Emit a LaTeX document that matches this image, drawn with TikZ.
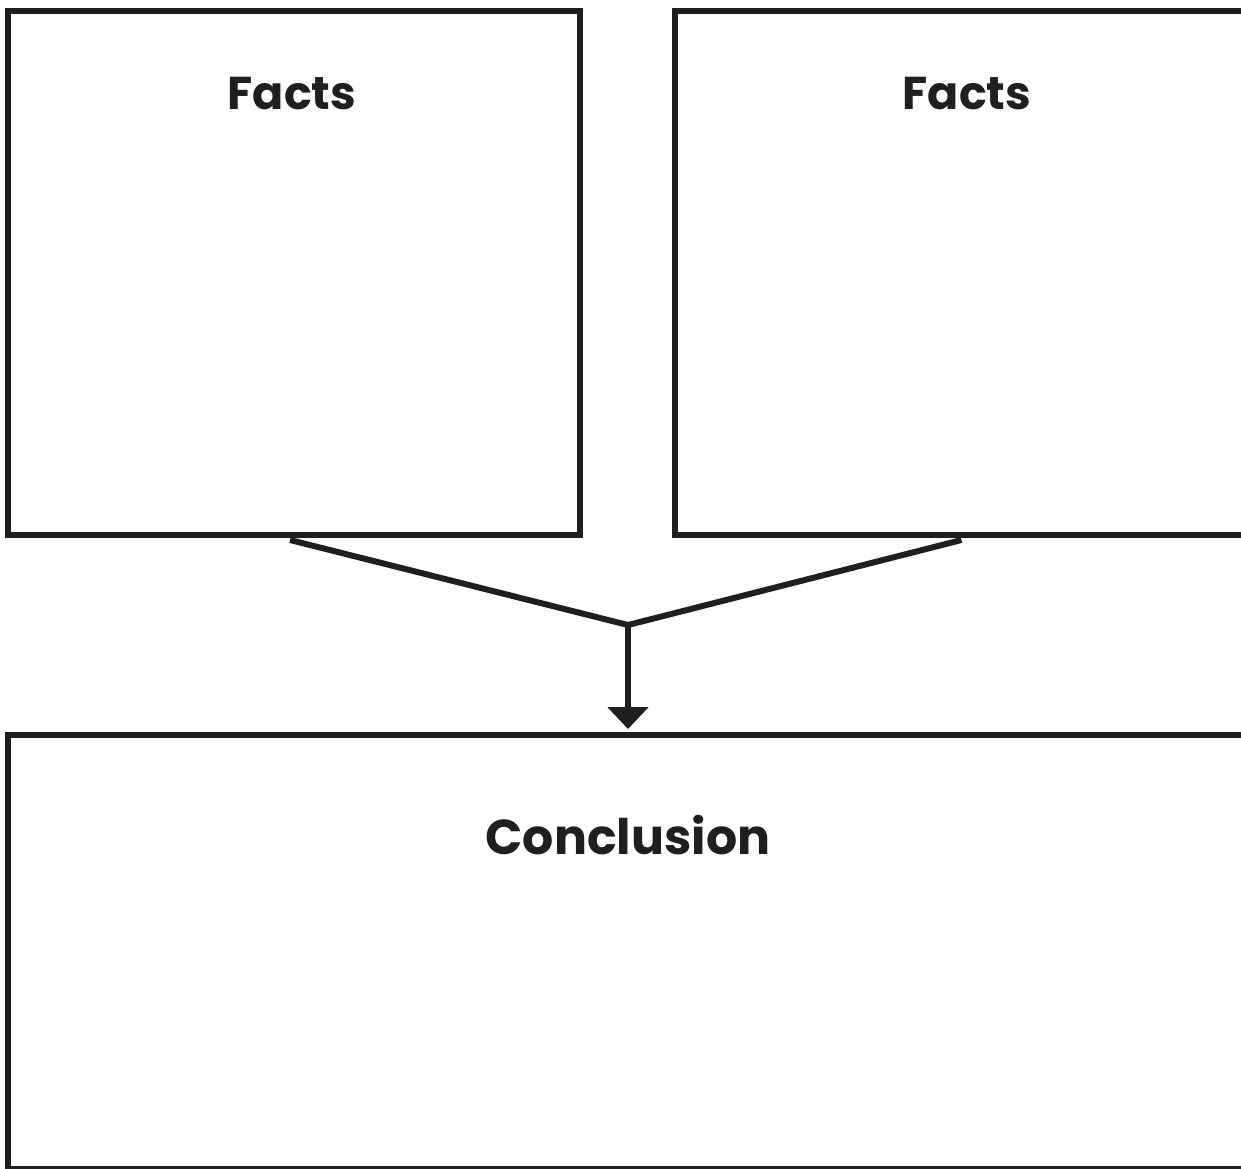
\documentclass[tikz,border=0pt]{standalone}
\usepackage{fontspec}
\setmainfont{Poppins}
\usetikzlibrary{arrows.meta,positioning,calc}
\definecolor{ink}{HTML}{1F1F1D}

\begin{document}
\begin{tikzpicture}[x=0.5pt,y=-0.5pt,
    frame/.style={draw=ink,line width=3pt,inner sep=0pt,rectangle},
    heading/.style={anchor=base,text=ink,font=\bfseries\fontsize{23}{26}\selectfont},
    link/.style={draw=ink,line width=3pt,line join=miter}]
  \useasboundingbox (0,0) rectangle (1241,1168);
  % the three boxes
  \node[frame,minimum width=286pt,minimum height=262pt] (facts1) at (294,273) {};
  \node[frame,minimum width=286pt,minimum height=262pt] (facts2) at (960.5,273) {};
  \node[frame,minimum width=620pt,minimum height=217pt] (concl) at (628,952) {};
  % titles
  \node[heading] (t1) at (292,109) {Facts};
  \node[heading] (t2) at (967,109) {Facts};
  \node[heading,font=\bfseries\fontsize{24.5}{28}\selectfont] (t3) at (628,854) {Conclusion};
  % joining lines and arrow
  \coordinate (join) at (628,625);
  \draw[link] ($(facts1.south)+(-4,2)$) -- (join) -- ($(facts2.south)+(1,2)$);
  \draw[link,-{Triangle[width=20pt,length=11pt]},shorten >=1.5pt] (join) -- (concl.north);
\end{tikzpicture}
\end{document}
